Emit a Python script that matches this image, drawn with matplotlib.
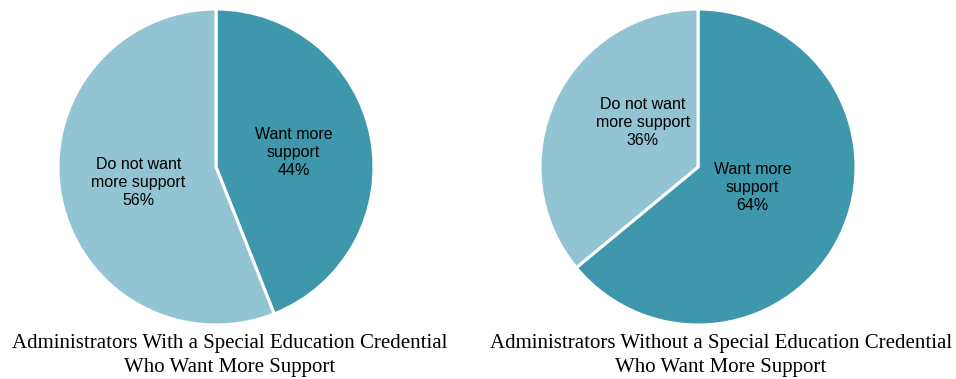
import matplotlib.pyplot as plt

categories = ["Want more\nsupport", "Do not want\nmore support"]
with_credential = [44, 56]
without_credential = [64, 36]
titles = [
    "Administrators With a Special Education Credential\nWho Want More Support",
    "Administrators Without a Special Education Credential\nWho Want More Support",
]

COLORS = ["#3f97ab", "#92c4d4"]
W, H = 956, 379

fig = plt.figure(figsize=(W / 100, H / 100), dpi=100)


def draw_pie(left_px, values, label_pos, title, title_x):
    ax = fig.add_axes([left_px / W, 54 / H, 316 / W, 316 / H])
    wedges, texts = ax.pie(
        values, labels=[f"{c}\n{v}%" for c, v in zip(categories, values)],
        colors=COLORS, startangle=90, counterclock=False, radius=1,
        wedgeprops=dict(edgecolor="white", linewidth=2.2),
        textprops=dict(family="Liberation Sans", fontsize=11.5, linespacing=1.25),
    )
    # labels sit inside the wedges, placed like Excel's "best fit"
    for t, pos in zip(texts, label_pos):
        t.set_position(pos)
        t.set_ha("center")
        t.set_va("center")
    ax.set_xlim(-1, 1)
    ax.set_ylim(-1, 1)
    ax.set_aspect("equal")
    ax.axis("off")
    fig.text(title_x / W, 1 - 355.5 / H, title, ha="center", va="center",
             family="Liberation Serif", fontsize=15, linespacing=1.38)


draw_pie(58, with_credential, [(0.49, 0.09), (-0.49, -0.095)], titles[0], 230)
draw_pie(540, without_credential, [(0.345, -0.127), (-0.35, 0.28)], titles[1], 721)

fig.savefig("out.png", dpi=100)
